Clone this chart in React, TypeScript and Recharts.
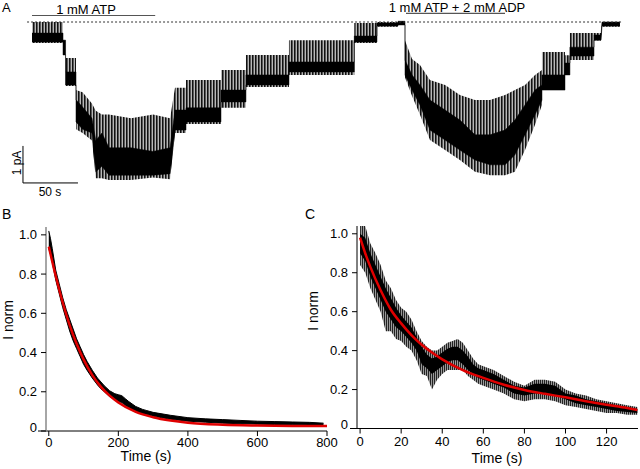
import React from 'react';
import { ComposedChart, Area, Line, XAxis, YAxis, ReferenceLine } from 'recharts';

// ---------- Panel A: single-channel current trace (time in s, current in pA) ----------
const aTime = [0, 28.2, 28.2, 30.5, 30.5, 40, 40, 46, 54.5, 58, 63.6, 70, 90, 110, 125.5, 130, 140, 140, 171.8, 171.8, 194.5, 194.5, 233.6, 233.6, 293, 293, 313.6, 313.6, 332.7, 332.7, 339.1, 339.1, 345.5, 352.7, 361.8, 375.5, 389, 402.7, 416.4, 430, 439, 448.2, 457.3, 463.6, 463.6, 484.5, 484.5, 489, 489, 510.9, 510.9, 517.3, 518.2, 534.5];
const aOuterHi = [0, 0, -0.49, -0.49, -0.97, -0.97, -1.84, -1.9, -2.2, -2.4, -2.5, -2.5, -2.6, -2.5, -2.6, -1.78, -1.78, -1.57, -1.57, -1.3, -1.3, -0.89, -0.89, -0.49, -0.49, -0.03, -0.03, 0, 0, 0.02, 0.02, -0.5, -1.0, -1.16, -1.57, -1.7, -1.97, -2.11, -2.11, -1.97, -1.84, -1.7, -1.43, -1.3, -0.81, -0.81, -0.9, -0.9, -0.3, -0.3, -0.3, -0.3, 0, 0];
const aOuterLo = [-0.57, -0.57, -0.89, -0.89, -1.73, -1.73, -2.9, -3.0, -3.2, -4.22, -4.22, -4.27, -4.27, -4.2, -4.25, -3.0, -3.0, -2.76, -2.76, -2.32, -2.32, -1.76, -1.76, -1.43, -1.43, -0.57, -0.57, -0.13, -0.13, -0.08, -0.08, -1.5, -2.0, -2.51, -3.19, -3.46, -3.73, -4.05, -4.14, -4.14, -4.05, -3.46, -2.78, -2.24, -1.84, -1.84, -1.43, -1.43, -1.03, -1.03, -0.5, -0.5, -0.13, -0.13];
const aCoreHi = [-0.3, -0.3, -0.49, -0.49, -1.35, -1.35, -2.1, -2.3, -2.6, -3.2, -3.0, -3.4, -3.4, -3.5, -3.4, -2.38, -2.38, -2.32, -2.32, -1.84, -1.84, -1.43, -1.43, -1.08, -1.08, -0.38, -0.38, -0.03, -0.03, 0.02, 0.02, -1.03, -1.43, -1.7, -2.11, -2.38, -2.65, -3.05, -3.05, -2.92, -2.65, -2.24, -1.84, -1.7, -1.43, -1.43, -1.11, -1.11, -0.68, -0.68, -0.35, -0.35, 0, 0];
const aCoreLo = [-0.54, -0.54, -0.89, -0.89, -1.7, -1.7, -2.7, -2.9, -3.0, -4.05, -3.9, -4.14, -4.14, -4.14, -4.1, -2.92, -2.92, -2.7, -2.7, -2.16, -2.16, -1.7, -1.7, -1.35, -1.35, -0.54, -0.54, -0.11, -0.11, -0.08, -0.08, -1.43, -1.84, -2.24, -2.92, -3.19, -3.46, -3.73, -3.86, -3.86, -3.59, -3.05, -2.51, -2.11, -1.84, -1.84, -1.43, -1.43, -0.92, -0.92, -0.49, -0.49, -0.11, -0.11];

// ---------- Panel B: normalized current, 1 mM ATP ----------
const bTime = [0, 5, 10, 20, 30, 40, 50, 60, 70, 80, 90, 100, 110, 125, 140, 150, 160, 175, 190, 200, 210, 220, 230, 250, 270, 280, 300, 350, 400, 450, 500, 550, 600, 650, 700, 750, 790];
const bLo = [0.93, 0.9, 0.86, 0.77, 0.7, 0.63, 0.57, 0.51, 0.46, 0.42, 0.38, 0.34, 0.31, 0.27, 0.235, 0.215, 0.2, 0.175, 0.16, 0.15, 0.145, 0.13, 0.12, 0.1, 0.085, 0.085, 0.075, 0.06, 0.05, 0.045, 0.04, 0.037, 0.035, 0.033, 0.032, 0.03, 0.028];
const bHi = [1.02, 0.98, 0.93, 0.82, 0.75, 0.68, 0.62, 0.57, 0.52, 0.47, 0.43, 0.39, 0.355, 0.31, 0.27, 0.25, 0.23, 0.205, 0.19, 0.185, 0.18, 0.165, 0.15, 0.125, 0.11, 0.105, 0.095, 0.08, 0.068, 0.062, 0.058, 0.054, 0.05, 0.048, 0.046, 0.044, 0.04];
const bFitTime = [0, 20, 40, 60, 80, 100, 125, 150, 175, 200, 250, 300, 350, 400, 500, 600, 700, 800];
const bFit = [0.94, 0.79, 0.655, 0.54, 0.445, 0.365, 0.285, 0.225, 0.18, 0.145, 0.097, 0.07, 0.053, 0.042, 0.032, 0.028, 0.026, 0.025];

// ---------- Panel C: normalized current, 1 mM ATP + 2 mM ADP ----------
const cTime = [0, 2.5, 5, 7.5, 10, 12.5, 15, 17.5, 20, 22.5, 25, 27.5, 30, 32.5, 35, 37.5, 40, 42.5, 45, 47.5, 50, 52.5, 55, 57.5, 60, 65, 70, 75, 80, 85, 90, 95, 100, 105, 110, 115, 120, 125, 130, 135];
const cOuterLo = [0.84, 0.8, 0.72, 0.66, 0.6, 0.5, 0.5, 0.46, 0.45, 0.42, 0.4, 0.35, 0.28, 0.27, 0.2, 0.25, 0.28, 0.3, 0.3, 0.3, 0.3, 0.27, 0.25, 0.23, 0.22, 0.2, 0.18, 0.15, 0.14, 0.15, 0.15, 0.14, 0.12, 0.11, 0.1, 0.09, 0.08, 0.08, 0.07, 0.07];
const cOuterHi = [1.04, 1.04, 0.95, 0.9, 0.84, 0.76, 0.72, 0.66, 0.62, 0.6, 0.56, 0.5, 0.45, 0.42, 0.4, 0.4, 0.42, 0.44, 0.45, 0.46, 0.44, 0.4, 0.36, 0.33, 0.32, 0.3, 0.27, 0.24, 0.22, 0.25, 0.25, 0.24, 0.2, 0.18, 0.17, 0.15, 0.14, 0.13, 0.12, 0.11];
const cCoreLo = [0.9, 0.86, 0.78, 0.72, 0.66, 0.6, 0.56, 0.52, 0.5, 0.47, 0.44, 0.4, 0.33, 0.31, 0.28, 0.3, 0.32, 0.34, 0.35, 0.35, 0.33, 0.3, 0.28, 0.26, 0.25, 0.23, 0.21, 0.18, 0.17, 0.18, 0.18, 0.17, 0.15, 0.13, 0.12, 0.11, 0.1, 0.09, 0.085, 0.08];
const cCoreHi = [1.0, 0.98, 0.9, 0.84, 0.78, 0.72, 0.67, 0.62, 0.58, 0.55, 0.52, 0.47, 0.42, 0.38, 0.36, 0.37, 0.39, 0.41, 0.42, 0.42, 0.4, 0.37, 0.33, 0.31, 0.3, 0.28, 0.25, 0.22, 0.21, 0.23, 0.23, 0.22, 0.18, 0.17, 0.15, 0.14, 0.13, 0.12, 0.11, 0.1];
const cFitTime = [0, 2.5, 5, 10, 15, 20, 25, 30, 35, 40, 50, 60, 70, 80, 90, 100, 110, 120, 130, 135];
const cFit = [0.98, 0.9, 0.83, 0.71, 0.61, 0.54, 0.48, 0.43, 0.39, 0.355, 0.3, 0.26, 0.225, 0.198, 0.178, 0.16, 0.14, 0.122, 0.105, 0.095];

const yTicks = [0, 0.2, 0.4, 0.6, 0.8, 1.0];
const bXTicks = [0, 200, 400, 600, 800];
const cXTicks = [0, 20, 40, 60, 80, 100, 120];

const aData = aTime.map((t, i) => ({ t, outer: [aOuterLo[i], aOuterHi[i]], core: [aCoreLo[i], aCoreHi[i]] }));
const bData = bTime.map((t, i) => ({ t, band: [bLo[i], bHi[i]] }));
const bFitData = bFitTime.map((t, i) => ({ t, fit: bFit[i] }));
const cData = cTime.map((t, i) => ({ t, outer: [cOuterLo[i], cOuterHi[i]], core: [cCoreLo[i], cCoreHi[i]] }));
const cFitData = cFitTime.map((t, i) => ({ t, fit: cFit[i] }));

const FONT = 'Arial, Helvetica, sans-serif';

const YTick = (props: any) => {
  const { x, y, payload } = props;
  const v = payload.value;
  return (
    <text x={x} y={v === 0 ? y - 4 : y} dy="0.355em" textAnchor="end" fontSize={13} fill="#000" fontFamily={FONT}>
      {v === 0 ? '0' : v.toFixed(1)}
    </text>
  );
};

export default function App() {
  return (
    <div style={{ position: 'absolute', left: 0, top: 0, width: 640, height: 469, background: '#fff', fontFamily: FONT, overflow: 'hidden' }}>
      {/* Panel A */}
      <div style={{ position: 'absolute', left: 0, top: 0 }}>
        <ComposedChart width={640} height={200} data={aData} margin={{ top: 3.5, right: 14, bottom: 11.5, left: 21 }}>
          <defs>
            <pattern id="spikesA" x="0" y="0" width="3" height="20" patternUnits="userSpaceOnUse">
              <rect x="0" y="0" width="3" height="20" fill="#b8b8b8" />
              <rect x="0" y="0" width="1" height="20" fill="#111" />
              <rect x="1" y="0" width="1" height="20" fill="#5a5a5a" />
            </pattern>
          </defs>
          <XAxis dataKey="t" type="number" domain={[-10, 540]} hide allowDataOverflow />
          <YAxis type="number" domain={[-4.5, 0.5]} hide allowDataOverflow />
          <ReferenceLine segment={[{ x: -4.5, y: 0 }, { x: 537, y: 0 }]} stroke="#333" strokeDasharray="2 2" ifOverflow="visible" />
          <ReferenceLine segment={[{ x: 0, y: 0.176 }, { x: 112, y: 0.176 }]} stroke="#555" strokeWidth={1.2} ifOverflow="visible" />
          <ReferenceLine segment={[{ x: 340, y: 0.235 }, { x: 430, y: 0.235 }]} stroke="#555" strokeWidth={1.2} ifOverflow="visible" />
          <ReferenceLine segment={[{ x: -8.2, y: -3.35 }, { x: -8.2, y: -4.35 }]} stroke="#000" ifOverflow="visible" />
          <ReferenceLine segment={[{ x: -8.2, y: -4.35 }, { x: 41.8, y: -4.35 }]} stroke="#000" ifOverflow="visible" />
          <Area dataKey="outer" type="linear" stroke="none" fill="url(#spikesA)" fillOpacity={1} isAnimationActive={false} />
          <Area dataKey="core" type="linear" stroke="#000" strokeWidth={0.5} fill="#000" fillOpacity={1} isAnimationActive={false} />
        </ComposedChart>
      </div>

      {/* Panel B */}
      <div style={{ position: 'absolute', left: 0, top: 190 }}>
        <ComposedChart width={345} height={279} data={bData} margin={{ top: 37, right: 18, bottom: 8, left: 6 }}>
          <XAxis dataKey="t" type="number" domain={[-8, 800]} ticks={bXTicks} allowDataOverflow
            axisLine={false} tickLine={{ stroke: '#000' }} tickSize={5} tickMargin={2}
            tick={{ fontSize: 13, fill: '#000', fontFamily: FONT }} height={30} />
          <YAxis type="number" domain={[0, 1.04]} ticks={yTicks} allowDataOverflow width={40}
            axisLine={{ stroke: '#888', strokeWidth: 1.5 }} tickLine={{ stroke: '#000' }} tickSize={5} tickMargin={4}
            tick={<YTick />} />
          <ReferenceLine segment={[{ x: -31, y: 0 }, { x: 800, y: 0 }]} stroke="#000" ifOverflow="visible" />
          <Area dataKey="band" type="linear" stroke="#000" strokeWidth={1} fill="#000" fillOpacity={1} isAnimationActive={false} />
          <Line data={bFitData} dataKey="fit" type="monotone" stroke="#e00000" strokeWidth={2.5} dot={false} isAnimationActive={false} />
        </ComposedChart>
      </div>

      {/* Panel C */}
      <div style={{ position: 'absolute', left: 320, top: 190 }}>
        <ComposedChart width={320} height={279} data={cData} margin={{ top: 36, right: 2, bottom: 10.5, left: 3 }}>
          <defs>
            <pattern id="spikesC" x="0" y="0" width="2" height="20" patternUnits="userSpaceOnUse">
              <rect x="0" y="0" width="2" height="20" fill="#9a9a9a" />
              <rect x="0" y="0" width="1" height="20" fill="#222" />
            </pattern>
          </defs>
          <XAxis dataKey="t" type="number" domain={[-1.5, 135.3]} ticks={cXTicks} allowDataOverflow
            axisLine={false} tickLine={{ stroke: '#000' }} tickSize={5} tickMargin={3}
            tick={{ fontSize: 13, fill: '#000', fontFamily: FONT }} height={30} />
          <YAxis type="number" domain={[0, 1.04]} ticks={yTicks} allowDataOverflow width={34}
            axisLine={{ stroke: '#000', strokeWidth: 1 }} tickLine={{ stroke: '#000' }} tickSize={5} tickMargin={4}
            tick={<YTick />} />
          <ReferenceLine segment={[{ x: -4.9, y: 0 }, { x: 135.3, y: 0 }]} stroke="#000" ifOverflow="visible" />
          <Area dataKey="outer" type="linear" stroke="none" fill="url(#spikesC)" fillOpacity={1} isAnimationActive={false} />
          <Area dataKey="core" type="linear" stroke="none" fill="#000" fillOpacity={1} isAnimationActive={false} />
          <Line data={cFitData} dataKey="fit" type="monotone" stroke="#e00000" strokeWidth={2.5} dot={false} isAnimationActive={false} />
        </ComposedChart>
      </div>

      {/* Text labels */}
      <svg width={640} height={469} style={{ position: 'absolute', left: 0, top: 0, pointerEvents: 'none' }} fontFamily={FONT}>
        <text x={2} y={12} fontSize={13} fill="#000">A</text>
        <text x={86} y={13.5} fontSize={13} fill="#000" textAnchor="middle">1 mM ATP</text>
        <text x={457} y={12} fontSize={13} fill="#000" textAnchor="middle">1 mM ATP + 2 mM ADP</text>
        <text x={50} y={196} fontSize={12} fill="#000" textAnchor="middle">50 s</text>
        <text transform="translate(21,163) rotate(-90)" fontSize={12} fill="#000" textAnchor="middle">1 pA</text>
        <text x={2} y={219} fontSize={14} fill="#000">B</text>
        <text x={305} y={219} fontSize={14} fill="#000">C</text>
        <text transform="translate(13,320) rotate(-90)" fontSize={14} fill="#000" textAnchor="middle">I norm</text>
        <text transform="translate(318,311) rotate(-90)" fontSize={14} fill="#000" textAnchor="middle">I norm</text>
        <text x={146} y={461} fontSize={14} fill="#000" textAnchor="middle">Time (s)</text>
        <text x={497} y={463} fontSize={14} fill="#000" textAnchor="middle">Time (s)</text>
      </svg>
    </div>
  );
}
